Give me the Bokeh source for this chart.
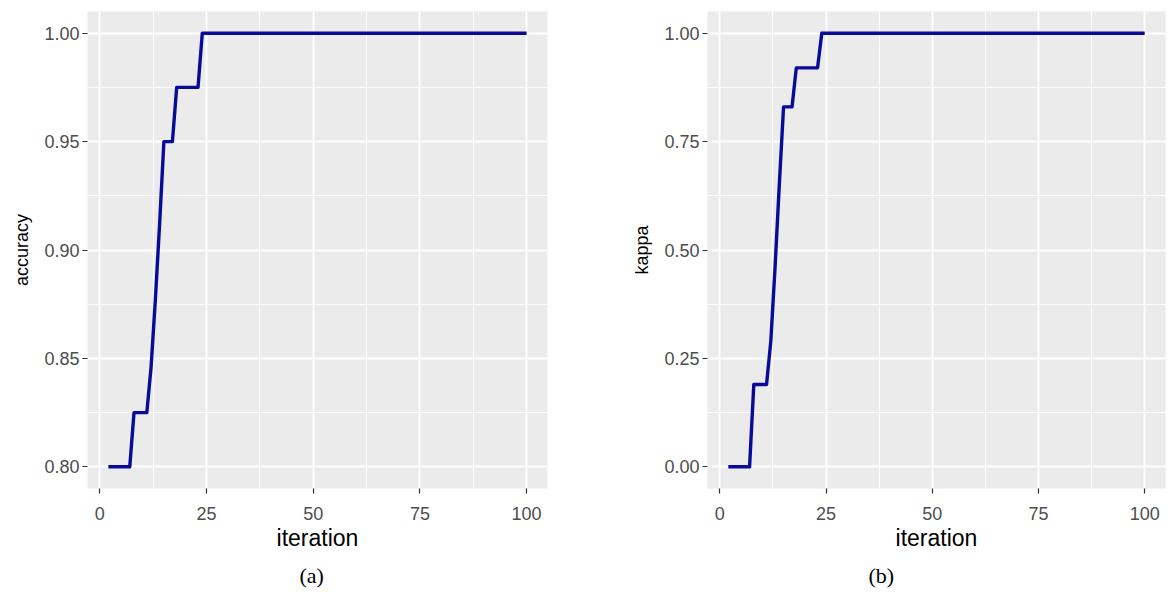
from bokeh.plotting import figure
from bokeh.layouts import row
from bokeh.models import FixedTicker, Range1d, Title, CustomJSTickFormatter
from bokeh.embed import file_html
from bokeh.resources import INLINE

# ---- data ----
iteration = [2, 7, 8, 11, 12, 13, 14, 15, 17, 18, 23, 24, 100]
accuracy = [0.800, 0.800, 0.825, 0.825, 0.846, 0.877, 0.912, 0.950, 0.950, 0.975, 0.975, 1.000, 1.000]
kappa = [0.00, 0.00, 0.19, 0.19, 0.29, 0.46, 0.65, 0.83, 0.83, 0.92, 0.92, 1.00, 1.00]

x_ticks = [0, 25, 50, 75, 100]
x_minor = [12.5, 37.5, 62.5, 87.5]
acc_ticks = [0.80, 0.85, 0.90, 0.95, 1.00]
acc_minor = [0.825, 0.875, 0.925, 0.975]
kappa_ticks = [0.00, 0.25, 0.50, 0.75, 1.00]
kappa_minor = [0.125, 0.375, 0.625, 0.875]

LINE = "#0a0a9a"
PANEL = "#EBEBEB"
TICKLBL = "#4D4D4D"


def make(yvals, ylabel, yticks, yminor, yrange, caption, border_left, frame_w, border_right, cap_offset):
    p = figure(width=border_left + frame_w + border_right, height=595,
               frame_width=frame_w, frame_height=477,
               min_border_left=border_left, min_border_right=border_right,
               min_border_top=11, min_border_bottom=107,
               x_range=Range1d(-2.9, 104.9), y_range=Range1d(*yrange),
               output_backend="svg", toolbar_location=None)
    p.background_fill_color = PANEL
    p.border_fill_color = "white"
    p.outline_line_color = None

    p.xaxis.ticker = FixedTicker(ticks=x_ticks, minor_ticks=x_minor)
    p.yaxis.ticker = FixedTicker(ticks=yticks, minor_ticks=yminor)
    p.yaxis.formatter = CustomJSTickFormatter(code="return tick.toFixed(2);")

    for ax in (p.xaxis, p.yaxis):
        ax.axis_line_color = None
        ax.major_tick_line_color = "#333333"
        ax.major_tick_line_width = 1.2
        ax.major_tick_out = 5
        ax.major_tick_in = 0
        ax.minor_tick_out = 0
        ax.minor_tick_in = 0
        ax.major_label_text_font = "Liberation Sans"
        ax.major_label_text_font_size = "18px"
        ax.major_label_text_color = TICKLBL
        ax.axis_label_text_font = "Liberation Sans"
        ax.axis_label_text_font_style = "normal"
        ax.axis_label_text_color = "black"

    p.xaxis.axis_label = "iteration"
    p.xaxis.axis_label_text_font_size = "23px"
    p.xaxis.major_label_standoff = 13
    p.xaxis.axis_label_standoff = 2

    p.yaxis.axis_label = ylabel
    p.yaxis.axis_label_text_font_size = "18px"
    p.yaxis.major_label_standoff = 3
    p.yaxis.axis_label_standoff = 9

    for g in (p.xgrid, p.ygrid):
        g.grid_line_color = "white"
        g.grid_line_width = 1.8
        g.minor_grid_line_color = "white"
        g.minor_grid_line_width = 0.9

    p.line(iteration, yvals, line_color=LINE, line_width=3.4, line_join="round")

    p.add_layout(Title(text=caption, align="left", offset=cap_offset,
                       text_font="Liberation Serif", text_font_size="22px",
                       text_font_style="normal", text_color="black", standoff=15), "below")
    return p


p1 = make(accuracy, "accuracy", acc_ticks, acc_minor, (0.79, 1.01), "(a)", 87, 460, 53, 212)
p2 = make(kappa, "kappa", kappa_ticks, kappa_minor, (-0.05, 1.05), "(b)", 107, 458, 3, 161)

layout = row(p1, p2)
open("out.html", "w").write(file_html(layout, INLINE))
